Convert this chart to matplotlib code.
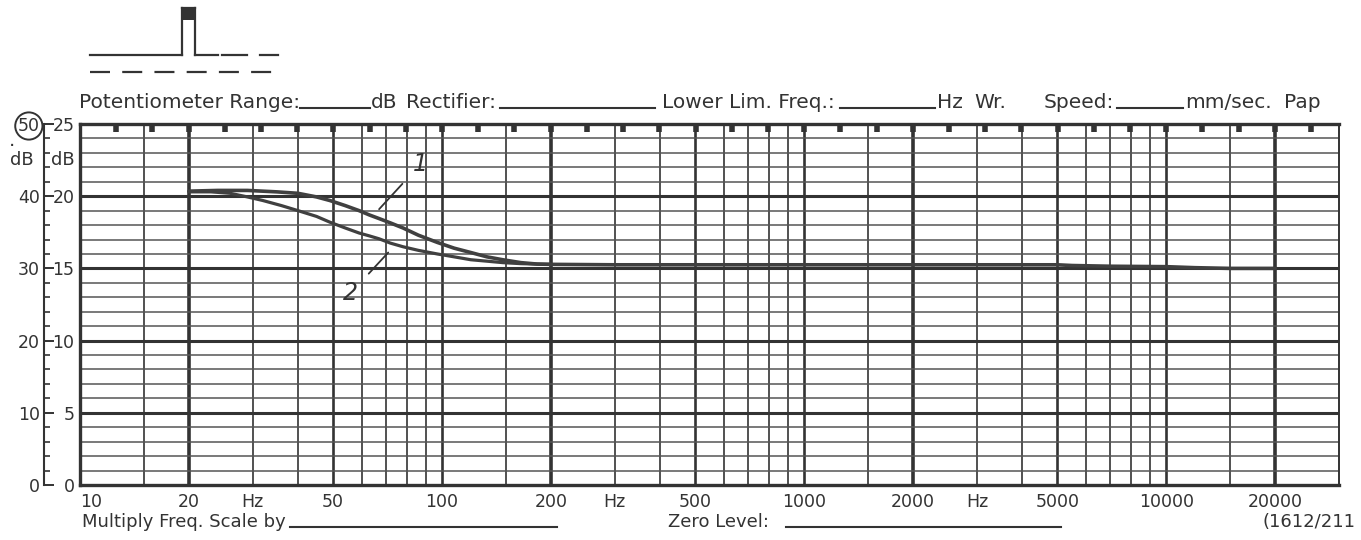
import matplotlib.pyplot as plt
from matplotlib.lines import Line2D
from matplotlib.patches import Rectangle

W, H = 1361, 540
INK = '#333333'

# recorder trace 1 (upper) and trace 2 (lower), level on the 25 dB scale
curve1_freq = [20, 24, 29, 35, 40, 45, 49, 54, 59, 63, 67, 72, 78, 86, 97, 108, 120, 133,
               147, 165, 183, 200, 300, 500, 1000, 2000, 3000, 5000, 5500, 7000, 10000,
               12000, 15000, 20000]
curve1_level = [20.35, 20.4, 20.4, 20.3, 20.2, 19.95, 19.7, 19.35, 19.0, 18.7, 18.45, 18.15,
                17.8, 17.3, 16.8, 16.4, 16.1, 15.8, 15.6, 15.4, 15.3, 15.28, 15.25, 15.25,
                15.25, 15.25, 15.25, 15.25, 15.2, 15.15, 15.12, 15.05, 15.0, 15.0]

curve2_freq = [20, 23, 26, 29, 32, 36, 40, 45, 49, 54, 59, 63, 67, 72, 78, 86, 97, 108, 120,
               133, 147, 165, 183, 200]
curve2_level = [20.3, 20.3, 20.2, 19.95, 19.7, 19.35, 19.0, 18.6, 18.2, 17.8, 17.45, 17.25,
                17.05, 16.75, 16.5, 16.25, 16.0, 15.8, 15.6, 15.5, 15.4, 15.33, 15.3, 15.28]

# frequency scale labels along the bottom
freq_ticks = [10, 20, 30, 50, 100, 200, 300, 500, 1000, 2000, 3000, 5000, 10000, 20000]
freq_labels = ['10', '20', 'Hz', '50', '100', '200', 'Hz', '500', '1000', '2000', 'Hz',
               '5000', '10000', '20000']

# hand written trace numbers: (label, point on trace, text position)
trace_marks = [('1', (67, 19.1), (87, 22.2)), ('2', (71, 16.1), (56, 13.3))]


def px(x, y):
    # image pixel -> figure fraction
    return x / W, 1 - y / H


def fig_line(fig, x0, y0, x1, y1, lw=1.5, **kw):
    (a, b), (c, d) = px(x0, y0), px(x1, y1)
    fig.add_artist(Line2D([a, c], [b, d], transform=fig.transFigure, color=INK, lw=lw, **kw))


def fig_text(fig, x, y, s, size=14.5, **kw):
    fx, fy = px(x, y)
    fig.text(fx, fy, s, fontsize=size, color=INK, va='baseline', **kw)


def draw_grid(ax):
    for decade in [10, 100, 1000, 10000]:
        for m in [1, 1.5, 2, 3, 4, 5, 6, 7, 8, 9]:
            f = m * decade
            if f <= 10 or f >= 30000:
                continue
            lw = 2.6 if m == 2 else (1.9 if m in (1, 5) else 1.2)
            ax.axvline(f, color=INK, lw=lw, zorder=1)
    for v in range(1, 25):
        lw = 2.2 if v % 5 == 0 else 1.1
        ax.axhline(v, color=INK if v % 5 == 0 else '#555555', lw=lw, zorder=1)
    # third octave marks hanging from the top edge
    marks = [10 * 10 ** (k / 10) for k in range(1, 35)]
    ax.vlines(marks, 24.45, 25, color=INK, lw=4.0, zorder=2)


fig = plt.figure(figsize=(W / 100, H / 100), dpi=100)
ax = fig.add_axes([80 / W, 1 - 485 / H, 1259 / W, 361 / H])
ax.set_xscale('log')
ax.set_xlim(10, 30000)
ax.set_ylim(0, 25)
draw_grid(ax)

ax.plot(curve1_freq, curve1_level, color='#404040', lw=2.6, solid_capstyle='round', zorder=3)
ax.plot(curve2_freq, curve2_level, color='#404040', lw=2.3, solid_capstyle='round', zorder=3)

for label, xy, xytext in trace_marks:
    ax.annotate(label, xy=xy, xytext=xytext, fontsize=17, fontstyle='italic', color=INK,
                ha='center', va='center',
                arrowprops=dict(arrowstyle='-', color=INK, lw=1.3, shrinkA=8, shrinkB=0))

for side in ['left', 'bottom', 'top']:
    ax.spines[side].set_linewidth(2.4)
    ax.spines[side].set_color(INK)
ax.spines['right'].set_linewidth(1.4)
ax.spines['right'].set_color(INK)

ax.xaxis.set_minor_locator(plt.NullLocator())
ax.set_xticks(freq_ticks)
ax.set_xticklabels(freq_labels)
ax.set_yticks(range(0, 26, 5))
ax.tick_params(axis='both', length=0, labelsize=12.5, labelcolor=INK)
ax.tick_params(axis='x', pad=6)
ax.tick_params(axis='y', pad=4)
ax.get_xticklabels()[0].set_ha('left')

# outer scale (0-50 dB) on its own bar left of the 25 dB scale
sec = ax.secondary_yaxis(-36 / 1259, functions=(lambda v: v * 2, lambda v: v / 2))
sec.set_yticks(range(0, 51, 10))
sec.set_yticks(range(0, 51, 2), minor=True)
sec.tick_params(axis='y', which='major', direction='in', length=7.5, width=1.4,
                labelsize=12.5, labelcolor=INK, color=INK, pad=3)
sec.tick_params(axis='y', which='minor', direction='in', length=4, width=1.2, color=INK)
sec.spines['left'].set_linewidth(1.5)
sec.spines['left'].set_color(INK)
sec.yaxis.get_major_ticks()[-1].label1.set_bbox(
    dict(boxstyle='circle,pad=0.15', fc='none', ec=INK, lw=1.4))

fig_text(fig, 22, 165, 'dB', size=13, ha='center')
fig_text(fig, 63, 165, 'dB', size=13, ha='center')
fig_text(fig, 12, 146, '.', size=14, ha='center')

# header line, each label centred on the room it has before its blank
fig_text(fig, 190, 108, 'Potentiometer Range:', ha='center')
fig_line(fig, 300, 108, 370, 108)
fig_text(fig, 371, 108, 'dB')
fig_text(fig, 451, 108, 'Rectifier:', ha='center')
fig_line(fig, 500, 108, 655, 108)
fig_text(fig, 748, 108, 'Lower Lim. Freq.:', ha='center')
fig_line(fig, 840, 108, 935, 108)
fig_text(fig, 937, 108, 'Hz')
fig_text(fig, 974, 108, 'Wr.')
fig_text(fig, 1114, 108, 'Speed:', ha='right')
fig_line(fig, 1117, 108, 1183, 108)
fig_text(fig, 1185, 108, 'mm/sec.')
fig_text(fig, 1284, 108, 'Pap')

# footer line
fig_text(fig, 82, 527, 'Multiply Freq. Scale by', size=13)
fig_line(fig, 290, 527, 557, 527)
fig_text(fig, 668, 527, 'Zero Level:', size=13)
fig_line(fig, 786, 527, 1061, 527)
fig_text(fig, 1262, 527, '(1612/211', size=13)

# pulse symbol top left
fig_line(fig, 90, 55, 182, 55, lw=1.6)
fig_line(fig, 182, 55, 182, 8, lw=1.6)
fig_line(fig, 182, 8, 195, 8, lw=1.6)
fig_line(fig, 195, 8, 195, 55, lw=1.6)
for x0, x1 in [(195, 218), (222, 247), (260, 278)]:
    fig_line(fig, x0, 55, x1, 55, lw=1.6)
fig_line(fig, 90, 72, 280, 72, lw=1.6, dashes=(9, 5.5))
rx, ry = px(182, 20)
fig.add_artist(Rectangle((rx, ry), 13 / W, 12 / H, transform=fig.transFigure,
                         color=INK, lw=0))

fig.savefig('out.png', dpi=100, facecolor='white')
